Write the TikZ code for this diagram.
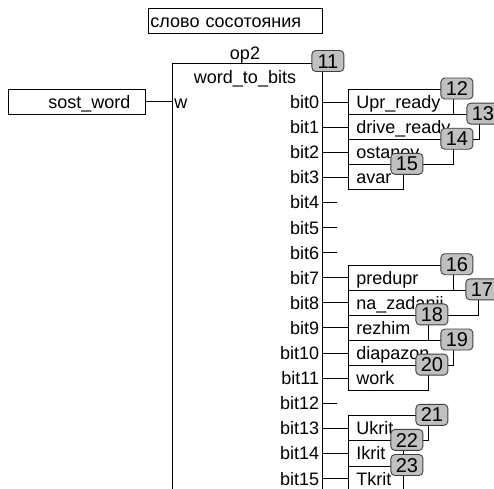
\documentclass[tikz,border=0pt]{standalone}
\usepackage{fontspec}
\setmainfont{Liberation Sans}
\definecolor{tagfill}{RGB}{192,192,192}
\definecolor{tagline}{RGB}{64,64,64}

\begin{document}
\begin{tikzpicture}[x=1pt, y=-1pt, line width=0.9pt,
  txt/.style={font=\fontsize{18}{20}\selectfont, text height=16pt, text depth=3pt, inner sep=0pt},
  var/.style={txt, draw, anchor=west, minimum height=25.1pt, inner xsep=8pt, inner ysep=2pt, align=left},
  bitl/.style={txt, anchor=east},
  tag/.style={draw=tagline, fill=tagfill, rounded corners=4pt, minimum width=32pt, minimum height=21pt,
              inner sep=1pt, font=\fontsize{20}{22}\selectfont, text height=16.3pt, text depth=2pt}
]
\useasboundingbox (0,0) rectangle (494,488);
\clip (0,0) rectangle (494,488);

\node[txt, draw, anchor=north west, text width=170pt, inner xsep=2pt, inner ysep=2pt,
      minimum height=25pt, align=left] (title) at (148, 8) {слово сосотояния};

% function block
\node[draw, anchor=north west, minimum width=149.5pt, minimum height=450pt, inner sep=0pt] (op2) at (172, 63) {};
\node[txt] (opname) at (245, 52.5) {op2};
\node[txt] (fname)  at (245, 77)   {word\_to\_bits};

\node[txt, draw, anchor=west, minimum height=25pt, text width=107pt, inner xsep=15pt, inner ysep=2pt,
      align=right] (sost) at (8, 101.5) {sost\_word};
\coordinate (win) at (172, 101.5);
\node[txt, anchor=west, inner xsep=2pt] (w) at (win) {w};
\draw (sost.east) -- (win);

% outputs
\node[bitl] (b0)  at (319.5, 102)   {bit0};
\node[bitl] (b1)  at (319.5, 127.1) {bit1};
\node[bitl] (b2)  at (319.5, 152.2) {bit2};
\node[bitl] (b3)  at (319.5, 177.3) {bit3};
\node[bitl] (b4)  at (319.5, 202.4) {bit4};
\node[bitl] (b5)  at (319.5, 227.5) {bit5};
\node[bitl] (b6)  at (319.5, 252.6) {bit6};
\node[bitl] (b7)  at (319.5, 277.7) {bit7};
\node[bitl] (b8)  at (319.5, 302.8) {bit8};
\node[bitl] (b9)  at (319.5, 327.9) {bit9};
\node[bitl] (b10) at (319.5, 353)   {bit10};
\node[bitl] (b11) at (319.5, 378.1) {bit11};
\node[bitl] (b12) at (319.5, 403.2) {bit12};
\node[bitl] (b13) at (319.5, 428.3) {bit13};
\node[bitl] (b14) at (319.5, 453.4) {bit14};
\node[bitl] (b15) at (319.5, 478.5) {bit15};

\coordinate (p0)  at (321.5, 102);
\coordinate (p1)  at (321.5, 127.1);
\coordinate (p2)  at (321.5, 152.2);
\coordinate (p3)  at (321.5, 177.3);
\coordinate (p4)  at (321.5, 202.4);
\coordinate (p5)  at (321.5, 227.5);
\coordinate (p6)  at (321.5, 252.6);
\coordinate (p7)  at (321.5, 277.7);
\coordinate (p8)  at (321.5, 302.8);
\coordinate (p9)  at (321.5, 327.9);
\coordinate (p10) at (321.5, 353);
\coordinate (p11) at (321.5, 378.1);
\coordinate (p12) at (321.5, 403.2);
\coordinate (p13) at (321.5, 428.3);
\coordinate (p14) at (321.5, 453.4);
\coordinate (p15) at (321.5, 478.5);
\coordinate (s4)  at (337, 202.4);
\coordinate (s5)  at (337, 227.5);
\coordinate (s6)  at (337, 252.6);
\coordinate (s12) at (337, 403.2);

% variables
\node[var, text width=89pt]  (v0)  at (348, 102)   {Upr\_ready};
\node[var, text width=115pt] (v1)  at (348, 127.1) {drive\_ready};
\node[var, text width=89pt]  (v2)  at (348, 152.2) {ostanov};
\node[var, text width=39pt]  (v3)  at (348, 177.3) {avar};
\node[var, text width=89pt]  (v7)  at (348, 277.7) {predupr};
\node[var, text width=114pt] (v8)  at (348, 302.8) {na\_zadanii};
\node[var, text width=64pt]  (v9)  at (348, 327.9) {rezhim};
\node[var, text width=89pt]  (v10) at (348, 353)   {diapazon};
\node[var, text width=64pt]  (v11) at (348, 378.1) {work};
\node[var, text width=64pt]  (v13) at (348, 428.3) {Ukrit};
\node[var, text width=39pt]  (v14) at (348, 453.4) {Ikrit};
\node[var, text width=39pt]  (v15) at (348, 478.5) {Tkrit};

\draw (p0) -- (v0.west);
\draw (p1) -- (v1.west);
\draw (p2) -- (v2.west);
\draw (p3) -- (v3.west);
\draw (p4) -- (s4);
\draw (p5) -- (s5);
\draw (p6) -- (s6);
\draw (p7) -- (v7.west);
\draw (p8) -- (v8.west);
\draw (p9) -- (v9.west);
\draw (p10) -- (v10.west);
\draw (p11) -- (v11.west);
\draw (p12) -- (s12);
\draw (p13) -- (v13.west);
\draw (p14) -- (v14.west);
\draw (p15) -- (v15.west);

% execution order tags
\node[tag] (t11) at ([xshift=5.5pt, yshift=2pt]op2.north east) {11};
\node[tag] (t12) at ([xshift=3pt, yshift=0.5pt]v0.north east)  {12};
\node[tag] (t13) at ([xshift=3pt, yshift=0.5pt]v1.north east)  {13};
\node[tag] (t14) at ([xshift=3pt, yshift=0.5pt]v2.north east)  {14};
\node[tag] (t15) at ([xshift=3pt, yshift=0.5pt]v3.north east)  {15};
\node[tag] (t16) at ([xshift=3pt, yshift=0.5pt]v7.north east)  {16};
\node[tag] (t17) at ([xshift=3pt, yshift=0.5pt]v8.north east)  {17};
\node[tag] (t18) at ([xshift=3pt, yshift=0.5pt]v9.north east)  {18};
\node[tag] (t19) at ([xshift=3pt, yshift=0.5pt]v10.north east) {19};
\node[tag] (t20) at ([xshift=3pt, yshift=0.5pt]v11.north east) {20};
\node[tag] (t21) at ([xshift=3pt, yshift=0.5pt]v13.north east) {21};
\node[tag] (t22) at ([xshift=3pt, yshift=0.5pt]v14.north east) {22};
\node[tag] (t23) at ([xshift=3pt, yshift=0.5pt]v15.north east) {23};
\end{tikzpicture}
\end{document}
